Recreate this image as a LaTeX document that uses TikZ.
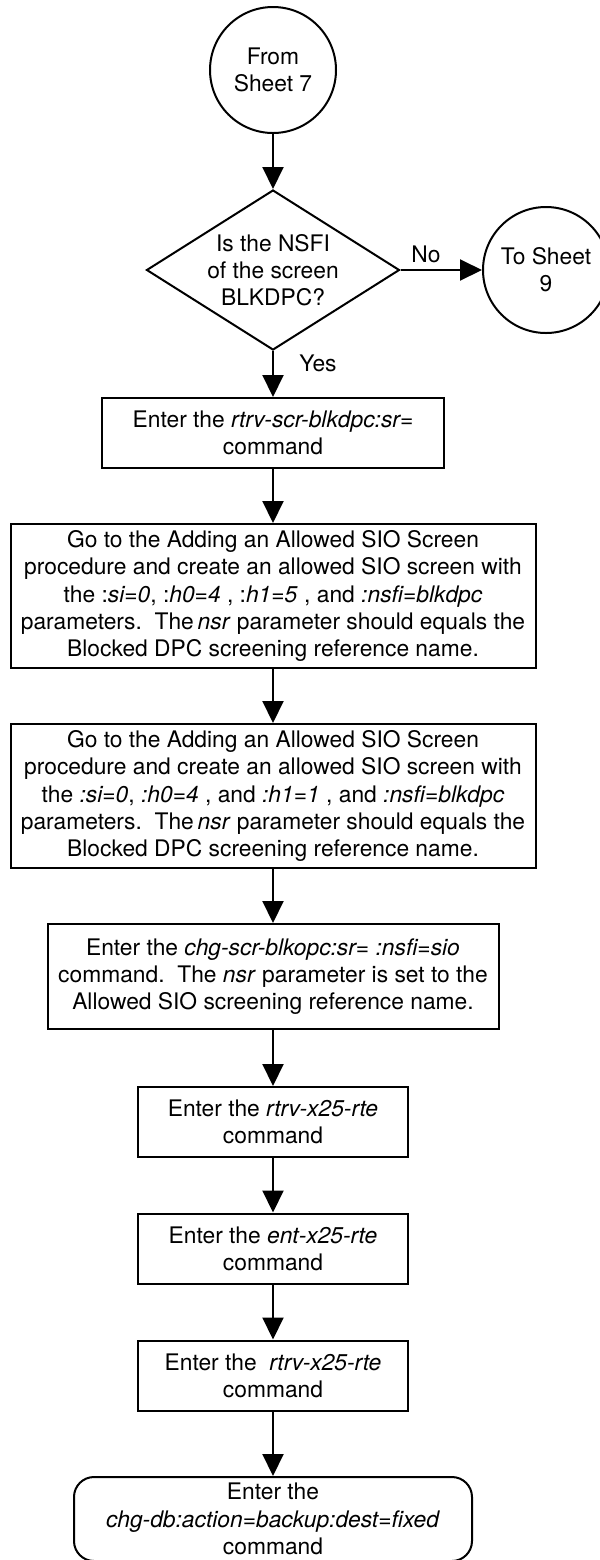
\documentclass[tikz,border=0pt]{standalone}
\usepackage{fontspec}
\setmainfont{TeX Gyre Heros}
\usetikzlibrary{shapes.geometric, arrows.meta, positioning}

\tikzset{
    base/.style={draw, line width=1pt, align=center, inner sep=2pt,
        font=\fontsize{11.4}{13.6}\selectfont},
    connector/.style={circle, base, minimum size=63pt},
    decision/.style={diamond, base, aspect=1.58, minimum width=126.5pt,
        minimum height=80pt, inner sep=0pt},
    process/.style={rectangle, base},
    terminal/.style={rectangle, rounded corners=10pt, base},
    flow/.style={line width=1pt, -{Triangle[length=11pt, width=10.5pt]}},
    lbl/.style={font=\fontsize{11.4}{13.6}\selectfont}
}

\begin{document}
\begin{tikzpicture}[x=0.5pt, y=-0.5pt]
    \useasboundingbox (0,0) rectangle (600,1560);

    % start, decision and off-page connector
    \node[connector] (from) at (273,70) {From\\Sheet 7};
    \node[decision] (isblk) at (273,270) {Is the NSFI\\of the screen\\BLKDPC?};
    \node[connector] (tosheet) at (546,270) {To Sheet\\9};

    % procedure steps
    \node[process, minimum width=171pt, minimum height=35pt] (rtrvscr) at (273,433)
        {Enter the \textit{rtrv-scr-blkdpc:sr=}\\command};
    \node[process, minimum width=262.5pt, minimum height=72pt] (addsio1) at (273,596)
        {Go to the Adding an Allowed SIO Screen\\
         procedure and create an allowed SIO screen with\\
         the :\textit{si=0}, :\textit{h0=4} , :\textit{h1=5} , and \textit{:nsfi=blkdpc}\\
         parameters.\ \ The\,\textit{nsr} parameter should equals the\\
         Blocked DPC screening reference name.};
    \node[process, minimum width=262.5pt, minimum height=72pt] (addsio2) at (273,796)
        {Go to the Adding an Allowed SIO Screen\\
         procedure and create an allowed SIO screen with\\
         the \textit{:si=0}, \textit{:h0=4} , and \textit{:h1=1} , and \textit{:nsfi=blkdpc}\\
         parameters.\ \ The\,\textit{nsr} parameter should equals the\\
         Blocked DPC screening reference name.};
    \node[process, minimum width=225.5pt, minimum height=52.5pt] (chgscr) at (273,976.5)
        {Enter the \textit{chg-scr-blkopc:sr= :nsfi=sio}\\
         command.\ \ The \textit{nsr} parameter is set to the\\
         Allowed SIO screening reference name.};
    \node[process, minimum width=135pt, minimum height=35pt] (rtrvx1) at (273,1122)
        {Enter the \textit{rtrv-x25-rte}\\command};
    \node[process, minimum width=135pt, minimum height=35pt] (entx) at (273,1248.5)
        {Enter the \textit{ent-x25-rte}\\command};
    \node[process, minimum width=135pt, minimum height=35pt] (rtrvx2) at (273,1375.5)
        {Enter the \ \textit{rtrv-x25-rte}\\command};
    \node[terminal, minimum width=199pt, minimum height=42pt] (chgdb) at (273,1519)
        {Enter the\\\textit{chg-db:action=backup:dest=fixed}\\command};

    % connectors
    \draw[flow] (from) -- (isblk);
    \draw[flow] (isblk) -- (tosheet);
    \draw[flow] (isblk) -- (rtrvscr);
    \draw[flow] (rtrvscr) -- (addsio1);
    \draw[flow] (addsio1) -- (addsio2);
    \draw[flow] (addsio2) -- (chgscr);
    \draw[flow] (chgscr) -- (rtrvx1);
    \draw[flow] (rtrvx1) -- (entx);
    \draw[flow] (entx) -- (rtrvx2);
    \draw[flow] (rtrvx2) -- (chgdb);

    % branch labels
    \node[lbl] (nolbl) at (426,254) {No};
    \node[lbl] (yeslbl) at (318,363) {Yes};
\end{tikzpicture}
\end{document}
